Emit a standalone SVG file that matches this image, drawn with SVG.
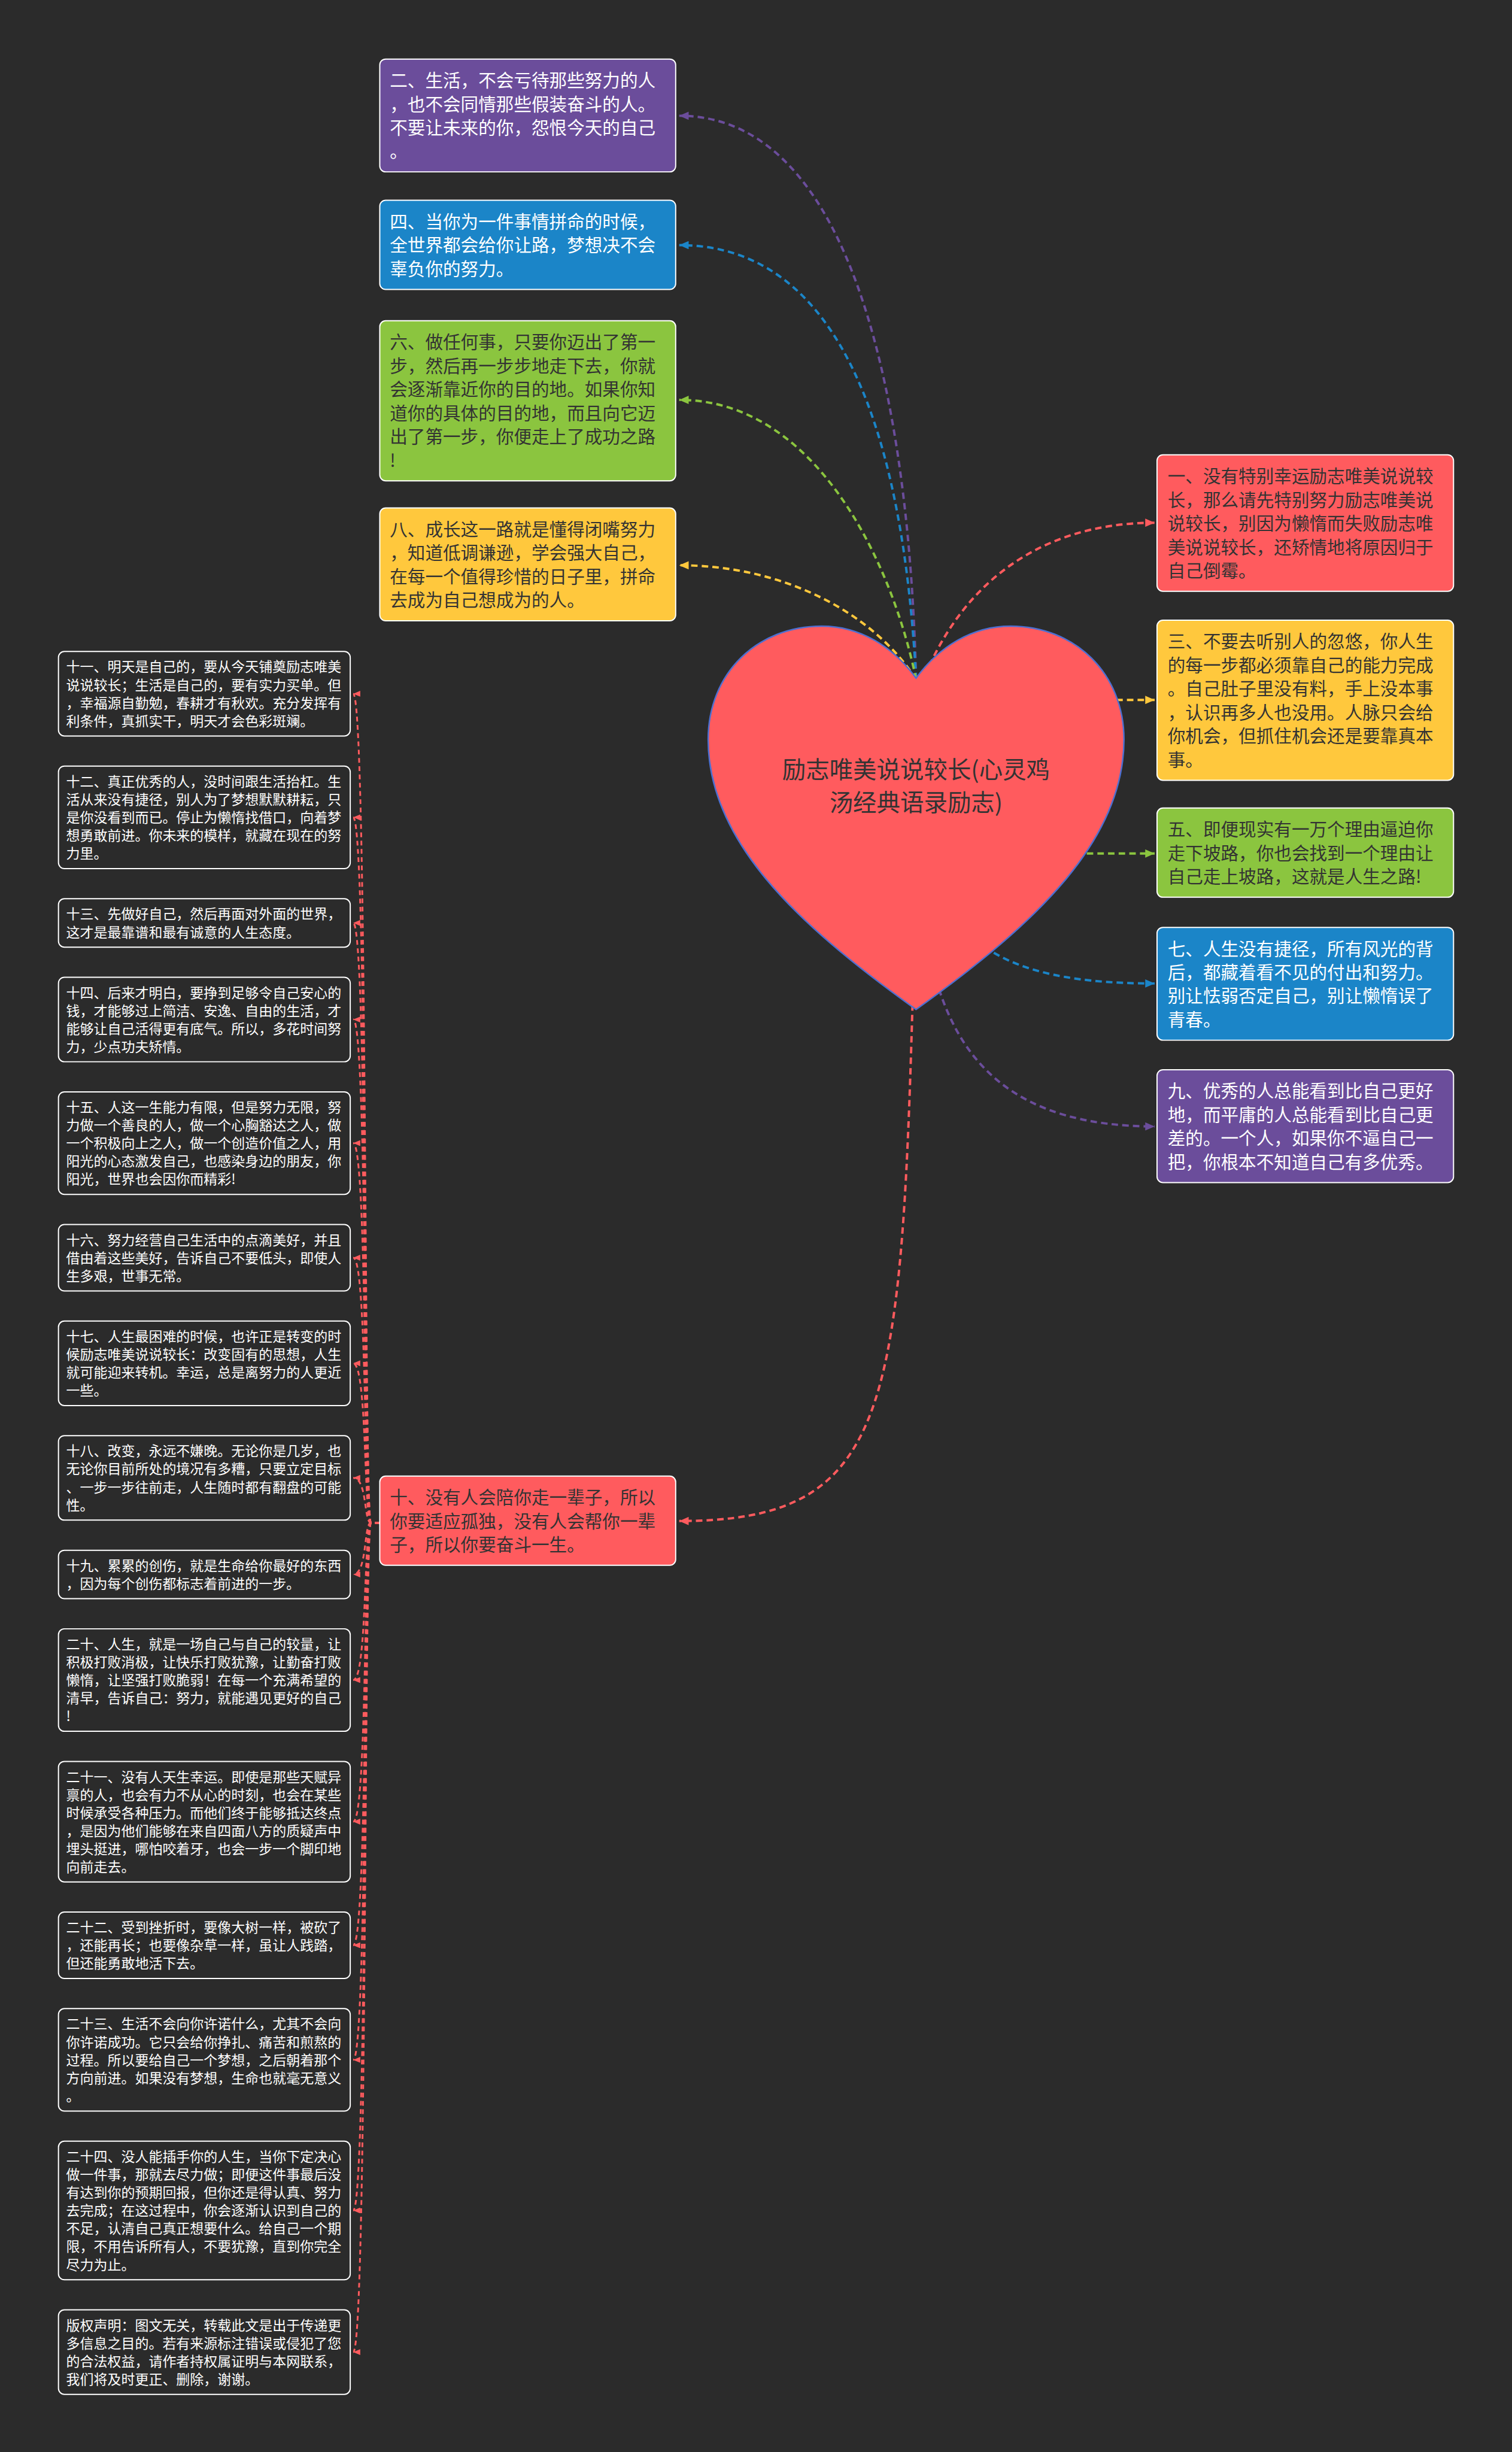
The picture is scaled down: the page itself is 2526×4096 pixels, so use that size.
<svg xmlns="http://www.w3.org/2000/svg" width="2526" height="4096" viewBox="0 0 2526 4096">
<style>
.t{font-family:"Noto Sans CJK SC","Noto Sans",sans-serif}
.b{font-size:30px}
.s{font-size:23.3px}
.w{fill:#ffffff}
.d{fill:#333333}
.box{stroke:#ffffff;stroke-width:2}
.sm{fill:#2b2b2b;stroke:#ffffff;stroke-width:2}
.c{fill:none;stroke-width:4;stroke-dasharray:11 7}
.f{fill:none;stroke:#ff5b5e;stroke-width:3;stroke-dasharray:8 6}
</style>
<defs>
<marker id="mp" viewBox="0 0 16 14" refX="16" refY="7" markerWidth="16" markerHeight="14" markerUnits="userSpaceOnUse" orient="auto"><path d="M0,0L16,7L0,14Z" fill="#6b4d9b"/></marker>
<marker id="mb" viewBox="0 0 16 14" refX="16" refY="7" markerWidth="16" markerHeight="14" markerUnits="userSpaceOnUse" orient="auto"><path d="M0,0L16,7L0,14Z" fill="#1b85c8"/></marker>
<marker id="mg" viewBox="0 0 16 14" refX="16" refY="7" markerWidth="16" markerHeight="14" markerUnits="userSpaceOnUse" orient="auto"><path d="M0,0L16,7L0,14Z" fill="#8bc53f"/></marker>
<marker id="my" viewBox="0 0 16 14" refX="16" refY="7" markerWidth="16" markerHeight="14" markerUnits="userSpaceOnUse" orient="auto"><path d="M0,0L16,7L0,14Z" fill="#ffc83d"/></marker>
<marker id="mr" viewBox="0 0 16 14" refX="16" refY="7" markerWidth="16" markerHeight="14" markerUnits="userSpaceOnUse" orient="auto"><path d="M0,0L16,7L0,14Z" fill="#ff5b5e"/></marker>
<marker id="ms" viewBox="0 0 12 10" refX="12" refY="5" markerWidth="12" markerHeight="10" markerUnits="userSpaceOnUse" orient="auto"><path d="M0,0L12,5L0,10Z" fill="#ff5b5e"/></marker>
</defs>
<rect x="0" y="0" width="2526" height="4096" fill="#2b2b2b"/>
<g transform="scale(0.98672)">
<g id="connectors">
<path class="c" stroke="#6b4d9b" d="M1551,1150 C1540,700 1450,196 1150,196" marker-end="url(#mp)"/>
<path class="c" stroke="#1b85c8" d="M1551,1150 C1530,750 1430,415 1150,415" marker-end="url(#mb)"/>
<path class="c" stroke="#8bc53f" d="M1551,1150 C1510,950 1380,677 1150,677" marker-end="url(#mg)"/>
<path class="c" stroke="#ffc83d" d="M1551,1150 C1480,1040 1330,957 1150,957" marker-end="url(#my)"/>
<path class="c" stroke="#ff5b5e" d="M1560,1160 C1620,1000 1750,885 1955,885" marker-end="url(#mr)"/>
<path class="c" stroke="#ffc83d" d="M1800,1185 L1955,1185" marker-end="url(#my)"/>
<path class="c" stroke="#8bc53f" d="M1750,1445 L1955,1445" marker-end="url(#mg)"/>
<path class="c" stroke="#1b85c8" d="M1640,1580 C1700,1640 1800,1665 1955,1665" marker-end="url(#mb)"/>
<path class="c" stroke="#6b4d9b" d="M1580,1640 C1620,1800 1720,1907 1955,1907" marker-end="url(#mp)"/>
<path class="c" stroke="#ff5b5e" d="M1545,1700 C1525,2400 1500,2575 1150,2575" marker-end="url(#mr)"/>
<path class="f" d="M643,2578 L628,2578 C616,2578 622,1174.5 598,1174.5" marker-end="url(#ms)"/>
<path class="f" d="M643,2578 L628,2578 C616,2578 622,1383.75 598,1383.75" marker-end="url(#ms)"/>
<path class="f" d="M643,2578 L628,2578 C616,2578 622,1562.5 598,1562.5" marker-end="url(#ms)"/>
<path class="f" d="M643,2578 L628,2578 C616,2578 622,1726 598,1726" marker-end="url(#ms)"/>
<path class="f" d="M643,2578 L628,2578 C616,2578 622,1935.25 598,1935.25" marker-end="url(#ms)"/>
<path class="f" d="M643,2578 L628,2578 C616,2578 622,2129.25 598,2129.25" marker-end="url(#ms)"/>
<path class="f" d="M643,2578 L628,2578 C616,2578 622,2308 598,2308" marker-end="url(#ms)"/>
<path class="f" d="M643,2578 L628,2578 C616,2578 622,2502 598,2502" marker-end="url(#ms)"/>
<path class="f" d="M643,2578 L628,2578 C616,2578 622,2665.5 598,2665.5" marker-end="url(#ms)"/>
<path class="f" d="M643,2578 L628,2578 C616,2578 622,2844.25 598,2844.25" marker-end="url(#ms)"/>
<path class="f" d="M643,2578 L628,2578 C616,2578 622,3084 598,3084" marker-end="url(#ms)"/>
<path class="f" d="M643,2578 L628,2578 C616,2578 622,3293.25 598,3293.25" marker-end="url(#ms)"/>
<path class="f" d="M643,2578 L628,2578 C616,2578 622,3487.25 598,3487.25" marker-end="url(#ms)"/>
<path class="f" d="M643,2578 L628,2578 C616,2578 622,3742.25 598,3742.25" marker-end="url(#ms)"/>
<path class="f" d="M643,2578 L628,2578 C616,2578 622,3982 598,3982" marker-end="url(#ms)"/>
</g>
<g id="root">
<path d="M1551,1148 C1590,1095 1645,1060 1711,1060 C1820,1060 1903,1140 1903,1252 C1903,1420 1760,1560 1551,1709 C1342,1560 1199,1420 1199,1252 C1199,1140 1282,1060 1391,1060 C1457,1060 1512,1095 1551,1148 Z" fill="#ff5b5e" stroke="#4c6fd1" stroke-width="2.5"/>
<text class="t d" font-size="40" text-anchor="middle"><tspan x="1551" y="1318">励志唯美说说较长(心灵鸡</tspan><tspan x="1551" y="1373">汤经典语录励志)</tspan></text>
</g>
<g id="n2"><rect class="box" x="643" y="100" width="501" height="191" rx="10" fill="#6b4d9b"/>
<text class="t b w"><tspan x="660" y="147">二、生活，不会亏待那些努力的人</tspan><tspan x="660" y="187">，也不会同情那些假装奋斗的人。</tspan><tspan x="660" y="227">不要让未来的你，怨恨今天的自己</tspan><tspan x="660" y="267">。</tspan></text></g>
<g id="n4"><rect class="box" x="643" y="339" width="501" height="151" rx="10" fill="#1b85c8"/>
<text class="t b w"><tspan x="660" y="386">四、当你为一件事情拼命的时候，</tspan><tspan x="660" y="426">全世界都会给你让路，梦想决不会</tspan><tspan x="660" y="466">辜负你的努力。</tspan></text></g>
<g id="n6"><rect class="box" x="643" y="543" width="501" height="271" rx="10" fill="#8bc53f"/>
<text class="t b d"><tspan x="660" y="590">六、做任何事，只要你迈出了第一</tspan><tspan x="660" y="630">步，然后再一步步地走下去，你就</tspan><tspan x="660" y="670">会逐渐靠近你的目的地。如果你知</tspan><tspan x="660" y="710">道你的具体的目的地，而且向它迈</tspan><tspan x="660" y="750">出了第一步，你便走上了成功之路</tspan><tspan x="660" y="790">!</tspan></text></g>
<g id="n8"><rect class="box" x="643" y="860" width="501" height="191" rx="10" fill="#ffc83d"/>
<text class="t b d"><tspan x="660" y="907">八、成长这一路就是懂得闭嘴努力</tspan><tspan x="660" y="947">，知道低调谦逊，学会强大自己，</tspan><tspan x="660" y="987">在每一个值得珍惜的日子里，拼命</tspan><tspan x="660" y="1027">去成为自己想成为的人。</tspan></text></g>
<g id="n1"><rect class="box" x="1959" y="770" width="502" height="231" rx="10" fill="#ff5b5e"/>
<text class="t b d"><tspan x="1977" y="817">一、没有特别幸运励志唯美说说较</tspan><tspan x="1977" y="857">长，那么请先特别努力励志唯美说</tspan><tspan x="1977" y="897">说较长，别因为懒惰而失败励志唯</tspan><tspan x="1977" y="937">美说说较长，还矫情地将原因归于</tspan><tspan x="1977" y="977">自己倒霉。</tspan></text></g>
<g id="n3"><rect class="box" x="1959" y="1050" width="502" height="271" rx="10" fill="#ffc83d"/>
<text class="t b d"><tspan x="1977" y="1097">三、不要去听别人的忽悠，你人生</tspan><tspan x="1977" y="1137">的每一步都必须靠自己的能力完成</tspan><tspan x="1977" y="1177">。自己肚子里没有料，手上没本事</tspan><tspan x="1977" y="1217">，认识再多人也没用。人脉只会给</tspan><tspan x="1977" y="1257">你机会，但抓住机会还是要靠真本</tspan><tspan x="1977" y="1297">事。</tspan></text></g>
<g id="n5"><rect class="box" x="1959" y="1368" width="502" height="151" rx="10" fill="#8bc53f"/>
<text class="t b d"><tspan x="1977" y="1415">五、即便现实有一万个理由逼迫你</tspan><tspan x="1977" y="1455">走下坡路，你也会找到一个理由让</tspan><tspan x="1977" y="1495">自己走上坡路，这就是人生之路!</tspan></text></g>
<g id="n7"><rect class="box" x="1959" y="1570" width="502" height="191" rx="10" fill="#1b85c8"/>
<text class="t b w"><tspan x="1977" y="1617">七、人生没有捷径，所有风光的背</tspan><tspan x="1977" y="1657">后，都藏着看不见的付出和努力。</tspan><tspan x="1977" y="1697">别让怯弱否定自己，别让懒惰误了</tspan><tspan x="1977" y="1737">青春。</tspan></text></g>
<g id="n9"><rect class="box" x="1959" y="1811" width="502" height="191" rx="10" fill="#6b4d9b"/>
<text class="t b w"><tspan x="1977" y="1858">九、优秀的人总能看到比自己更好</tspan><tspan x="1977" y="1898">地，而平庸的人总能看到比自己更</tspan><tspan x="1977" y="1938">差的。一个人，如果你不逼自己一</tspan><tspan x="1977" y="1978">把，你根本不知道自己有多优秀。</tspan></text></g>
<g id="n10"><rect class="box" x="643" y="2499" width="501" height="151" rx="10" fill="#ff5b5e"/>
<text class="t b d"><tspan x="660" y="2546">十、没有人会陪你走一辈子，所以</tspan><tspan x="660" y="2586">你要适应孤独，没有人会帮你一辈</tspan><tspan x="660" y="2626">子，所以你要奋斗一生。</tspan></text></g>
<g id="n11"><rect class="sm" x="99" y="1103" width="494" height="143" rx="10"/>
<text class="t s w"><tspan x="112" y="1137.6">十一、明天是自己的，要从今天铺奠励志唯美</tspan><tspan x="112" y="1168.1">说说较长；生活是自己的，要有实力买单。但</tspan><tspan x="112" y="1198.6">，幸福源自勤勉，春耕才有秋欢。充分发挥有</tspan><tspan x="112" y="1229.1">利条件，真抓实干，明天才会色彩斑斓。</tspan></text></g>
<g id="n12"><rect class="sm" x="99" y="1297" width="494" height="173.5" rx="10"/>
<text class="t s w"><tspan x="112" y="1331.6">十二、真正优秀的人，没时间跟生活抬杠。生</tspan><tspan x="112" y="1362.1">活从来没有捷径，别人为了梦想默默耕耘，只</tspan><tspan x="112" y="1392.6">是你没看到而已。停止为懒惰找借口，向着梦</tspan><tspan x="112" y="1423.1">想勇敢前进。你未来的模样，就藏在现在的努</tspan><tspan x="112" y="1453.6">力里。</tspan></text></g>
<g id="n13"><rect class="sm" x="99" y="1521.5" width="494" height="82" rx="10"/>
<text class="t s w"><tspan x="112" y="1556.1">十三、先做好自己，然后再面对外面的世界，</tspan><tspan x="112" y="1586.6">这才是最靠谱和最有诚意的人生态度。</tspan></text></g>
<g id="n14"><rect class="sm" x="99" y="1654.5" width="494" height="143" rx="10"/>
<text class="t s w"><tspan x="112" y="1689.1">十四、后来才明白，要挣到足够令自己安心的</tspan><tspan x="112" y="1719.6">钱，才能够过上简洁、安逸、自由的生活，才</tspan><tspan x="112" y="1750.1">能够让自己活得更有底气。所以，多花时间努</tspan><tspan x="112" y="1780.6">力，少点功夫矫情。</tspan></text></g>
<g id="n15"><rect class="sm" x="99" y="1848.5" width="494" height="173.5" rx="10"/>
<text class="t s w"><tspan x="112" y="1883.1">十五、人这一生能力有限，但是努力无限，努</tspan><tspan x="112" y="1913.6">力做一个善良的人，做一个心胸豁达之人，做</tspan><tspan x="112" y="1944.1">一个积极向上之人，做一个创造价值之人，用</tspan><tspan x="112" y="1974.6">阳光的心态激发自己，也感染身边的朋友，你</tspan><tspan x="112" y="2005.1">阳光，世界也会因你而精彩!</tspan></text></g>
<g id="n16"><rect class="sm" x="99" y="2073" width="494" height="112.5" rx="10"/>
<text class="t s w"><tspan x="112" y="2107.6">十六、努力经营自己生活中的点滴美好，并且</tspan><tspan x="112" y="2138.1">借由着这些美好，告诉自己不要低头，即使人</tspan><tspan x="112" y="2168.6">生多艰，世事无常。</tspan></text></g>
<g id="n17"><rect class="sm" x="99" y="2236.5" width="494" height="143" rx="10"/>
<text class="t s w"><tspan x="112" y="2271.1">十七、人生最困难的时候，也许正是转变的时</tspan><tspan x="112" y="2301.6">候励志唯美说说较长：改变固有的思想，人生</tspan><tspan x="112" y="2332.1">就可能迎来转机。幸运，总是离努力的人更近</tspan><tspan x="112" y="2362.6">一些。</tspan></text></g>
<g id="n18"><rect class="sm" x="99" y="2430.5" width="494" height="143" rx="10"/>
<text class="t s w"><tspan x="112" y="2465.1">十八、改变，永远不嫌晚。无论你是几岁，也</tspan><tspan x="112" y="2495.6">无论你目前所处的境况有多糟，只要立定目标</tspan><tspan x="112" y="2526.1">、一步一步往前走，人生随时都有翻盘的可能</tspan><tspan x="112" y="2556.6">性。</tspan></text></g>
<g id="n19"><rect class="sm" x="99" y="2624.5" width="494" height="82" rx="10"/>
<text class="t s w"><tspan x="112" y="2659.1">十九、累累的创伤，就是生命给你最好的东西</tspan><tspan x="112" y="2689.6">，因为每个创伤都标志着前进的一步。</tspan></text></g>
<g id="n20"><rect class="sm" x="99" y="2757.5" width="494" height="173.5" rx="10"/>
<text class="t s w"><tspan x="112" y="2792.1">二十、人生，就是一场自己与自己的较量，让</tspan><tspan x="112" y="2822.6">积极打败消极，让快乐打败犹豫，让勤奋打败</tspan><tspan x="112" y="2853.1">懒惰，让坚强打败脆弱！在每一个充满希望的</tspan><tspan x="112" y="2883.6">清早，告诉自己：努力，就能遇见更好的自己</tspan><tspan x="112" y="2914.1">!</tspan></text></g>
<g id="n21"><rect class="sm" x="99" y="2982" width="494" height="204" rx="10"/>
<text class="t s w"><tspan x="112" y="3016.6">二十一、没有人天生幸运。即使是那些天赋异</tspan><tspan x="112" y="3047.1">禀的人，也会有力不从心的时刻，也会在某些</tspan><tspan x="112" y="3077.6">时候承受各种压力。而他们终于能够抵达终点</tspan><tspan x="112" y="3108.1">，是因为他们能够在来自四面八方的质疑声中</tspan><tspan x="112" y="3138.6">埋头挺进，哪怕咬着牙，也会一步一个脚印地</tspan><tspan x="112" y="3169.1">向前走去。</tspan></text></g>
<g id="n22"><rect class="sm" x="99" y="3237" width="494" height="112.5" rx="10"/>
<text class="t s w"><tspan x="112" y="3271.6">二十二、受到挫折时，要像大树一样，被砍了</tspan><tspan x="112" y="3302.1">，还能再长；也要像杂草一样，虽让人践踏，</tspan><tspan x="112" y="3332.6">但还能勇敢地活下去。</tspan></text></g>
<g id="n23"><rect class="sm" x="99" y="3400.5" width="494" height="173.5" rx="10"/>
<text class="t s w"><tspan x="112" y="3435.1">二十三、生活不会向你许诺什么，尤其不会向</tspan><tspan x="112" y="3465.6">你许诺成功。它只会给你挣扎、痛苦和煎熬的</tspan><tspan x="112" y="3496.1">过程。所以要给自己一个梦想，之后朝着那个</tspan><tspan x="112" y="3526.6">方向前进。如果没有梦想，生命也就毫无意义</tspan><tspan x="112" y="3557.1">。</tspan></text></g>
<g id="n24"><rect class="sm" x="99" y="3625" width="494" height="234.5" rx="10"/>
<text class="t s w"><tspan x="112" y="3659.6">二十四、没人能插手你的人生，当你下定决心</tspan><tspan x="112" y="3690.1">做一件事，那就去尽力做；即便这件事最后没</tspan><tspan x="112" y="3720.6">有达到你的预期回报，但你还是得认真、努力</tspan><tspan x="112" y="3751.1">去完成；在这过程中，你会逐渐认识到自己的</tspan><tspan x="112" y="3781.6">不足，认清自己真正想要什么。给自己一个期</tspan><tspan x="112" y="3812.1">限，不用告诉所有人，不要犹豫，直到你完全</tspan><tspan x="112" y="3842.6">尽力为止。</tspan></text></g>
<g id="n25"><rect class="sm" x="99" y="3910.5" width="494" height="143" rx="10"/>
<text class="t s w"><tspan x="112" y="3945.1">版权声明：图文无关，转载此文是出于传递更</tspan><tspan x="112" y="3975.6">多信息之目的。若有来源标注错误或侵犯了您</tspan><tspan x="112" y="4006.1">的合法权益，请作者持权属证明与本网联系，</tspan><tspan x="112" y="4036.6">我们将及时更正、删除，谢谢。</tspan></text></g>
</g>
</svg>
